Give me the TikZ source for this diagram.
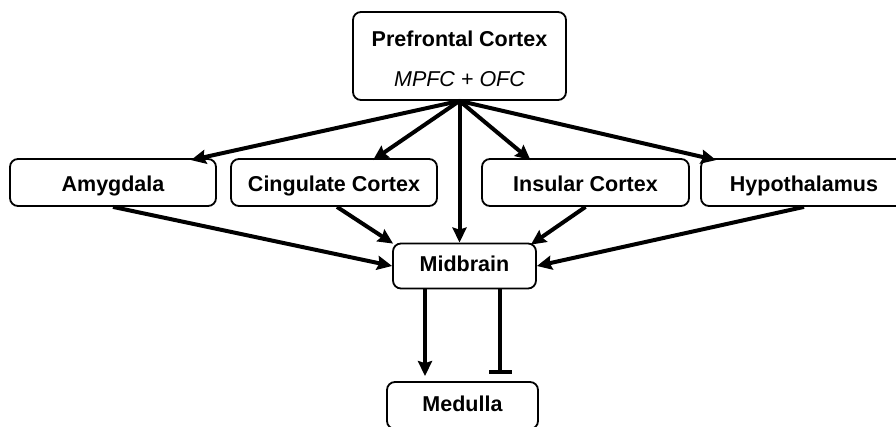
\documentclass[tikz,border=0pt]{standalone}
\usepackage{fontspec}
\setmainfont{Liberation Sans}
\usetikzlibrary{arrows.meta,calc}
\begin{document}
\begin{tikzpicture}[x=1pt,y=-1pt,
  box/.style={draw,line width=1.8pt,rounded corners=8pt,inner sep=0pt,
    font=\fontsize{21.5}{25}\selectfont\bfseries,minimum height=47pt,
    text height=15pt,text depth=3pt},
  rowbox/.style={box,text height=18pt,text depth=0pt},
  conn/.style={line width=4pt,-{Stealth[length=15pt,width=14pt,inset=2pt]}},
  inhib/.style={line width=4pt,-{Bar[width=23pt,line width=4pt]}}]
\useasboundingbox (0,0) rectangle (896,427);
\clip (0,0) rectangle (896,427);
\node[box,minimum width=213pt,minimum height=88pt] (pfc) at (459.5,56) {};
\node[font=\fontsize{21.5}{25}\selectfont\bfseries] (pfct) at (459.5,39) {Prefrontal Cortex};
\node[font=\fontsize{21.5}{25}\selectfont\itshape] (pfcs) at (459.5,79) {MPFC + OFC};
\node[rowbox,minimum width=206pt] (amy) at (113,182.5) {Amygdala};
\node[rowbox,minimum width=206pt] (cing) at (334,182.5) {Cingulate Cortex};
\node[rowbox,minimum width=207pt] (ins) at (585.5,182.5) {Insular Cortex};
\node[rowbox,minimum width=206pt] (hyp) at (804,182.5) {Hypothalamus};
\node[box,minimum width=143pt,minimum height=45pt] (mid) at (464.5,266) {Midbrain};
\node[box,minimum width=151pt] (med) at (462.5,405.5) {Medulla};
% fan from prefrontal cortex
\draw[conn] (pfc.south) -- ([xshift=-26pt,yshift=-2pt]amy.north east);
\draw[conn] (pfc.south) -- ([xshift=39pt,yshift=-2pt]cing.north);
\draw[conn] (pfc.south) -- (pfc.south |- mid.north);
\draw[conn] (pfc.south) -- ([xshift=-55pt,yshift=-2pt]ins.north);
\draw[conn] (pfc.south) -- ([xshift=16pt,yshift=-2pt]hyp.north west);
% into midbrain
\draw[conn] (amy.south) -- (mid.west);
\draw[conn] ([xshift=3pt]cing.south) -- ([xshift=1pt,yshift=-1pt]mid.north west);
\draw[conn] (ins.south) -- ([xshift=-6pt,yshift=-2pt]mid.north east);
\draw[conn] (hyp.south) -- (mid.east);
% midbrain to medulla
\coordinate (m1) at ([xshift=-39.5pt]mid.south);
\coordinate (m2) at ([xshift=35.5pt]mid.south);
\draw[conn] (m1) -- ($(m1 |- med.north)+(0,5pt)$);
\draw[inhib] (m2) -- ($(m2 |- med.north)+(0,7pt)$);
\end{tikzpicture}
\end{document}
